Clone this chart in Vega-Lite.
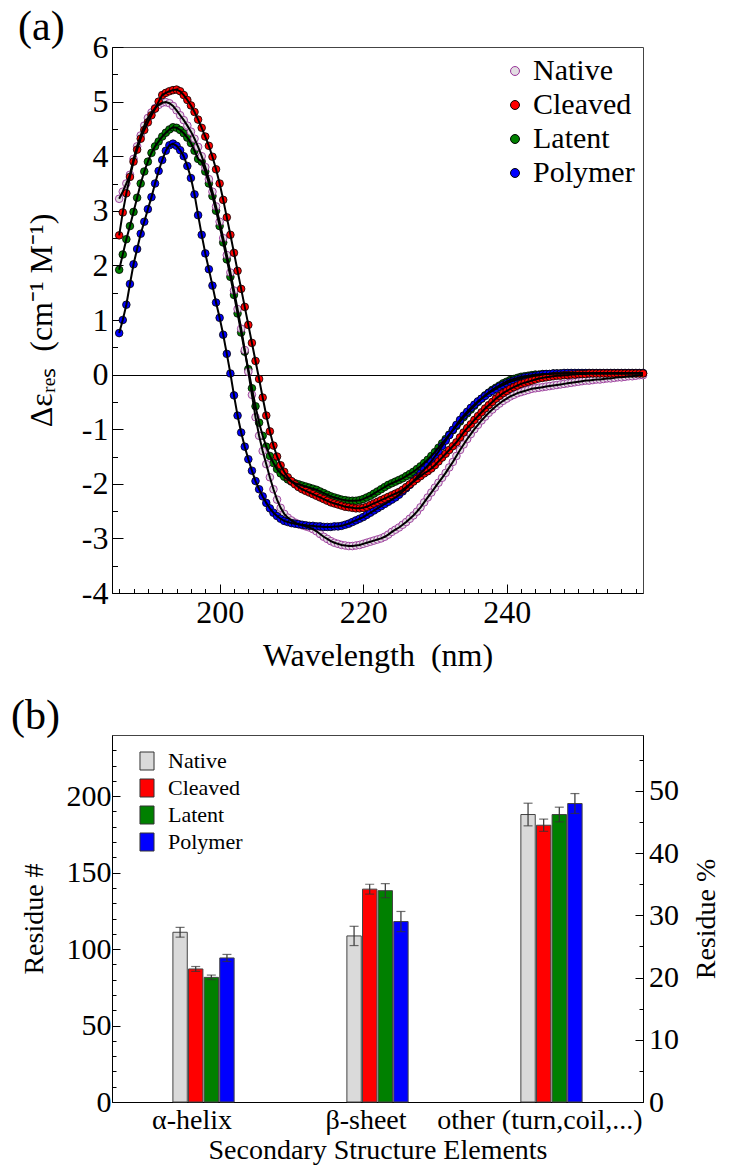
{
"$schema": "https://vega.github.io/schema/vega-lite/v6.json",
"background": "white",
"padding": {"left": 10, "top": 5, "right": 2, "bottom": 2},
"bounds": "flush",
"spacing": 142,
"resolve": {"scale": {"fill": "independent"}, "legend": {"fill": "independent"}},
"config": {"font": "Liberation Serif", "view": {"stroke": "#444", "strokeWidth": 1},
  "axis": {"labelFont": "Liberation Serif", "titleFont": "Liberation Serif", "domainColor": "#000", "tickColor": "#000", "labelColor": "#000", "titleColor": "#000", "grid": false, "titleFontWeight": "normal", "tickWidth": 1},
  "legend": {"labelFont": "Liberation Serif", "titleFont": "Liberation Serif", "padding": 0, "labelColor": "#000"},
  "title": {"font": "Liberation Serif", "fontWeight": "normal", "color": "#000"}},
"datasets": {
"native": [{"w":186,"v":3.22},{"w":186.5,"v":3.35},{"w":187,"v":3.5},{"w":187.5,"v":3.66},{"w":188,"v":3.95},{"w":188.5,"v":4.18},{"w":189,"v":4.38},{"w":189.5,"v":4.56},{"w":190,"v":4.7},{"w":190.5,"v":4.8},{"w":191,"v":4.88},{"w":191.5,"v":4.94},{"w":192,"v":4.98},{"w":192.5,"v":4.99},{"w":193,"v":4.97},{"w":193.5,"v":4.92},{"w":194,"v":4.84},{"w":194.5,"v":4.75},{"w":195,"v":4.66},{"w":195.5,"v":4.56},{"w":196,"v":4.45},{"w":196.5,"v":4.32},{"w":197,"v":4.17},{"w":197.5,"v":4.0},{"w":198,"v":3.8},{"w":198.5,"v":3.58},{"w":199,"v":3.35},{"w":199.5,"v":3.08},{"w":200,"v":2.8},{"w":200.5,"v":2.5},{"w":201,"v":2.19},{"w":201.5,"v":1.87},{"w":202,"v":1.54},{"w":202.5,"v":1.2},{"w":203,"v":0.84},{"w":203.5,"v":0.45},{"w":204,"v":0.05},{"w":204.5,"v":-0.37},{"w":205,"v":-0.78},{"w":205.5,"v":-1.12},{"w":206,"v":-1.4},{"w":206.5,"v":-1.64},{"w":207,"v":-1.88},{"w":207.5,"v":-2.1},{"w":208,"v":-2.29},{"w":208.5,"v":-2.44},{"w":209,"v":-2.55},{"w":209.5,"v":-2.62},{"w":210,"v":-2.67},{"w":210.5,"v":-2.71},{"w":211,"v":-2.74},{"w":211.5,"v":-2.76},{"w":212,"v":-2.78},{"w":212.5,"v":-2.8},{"w":213,"v":-2.83},{"w":213.5,"v":-2.87},{"w":214,"v":-2.92},{"w":214.5,"v":-2.97},{"w":215,"v":-3.01},{"w":215.5,"v":-3.05},{"w":216,"v":-3.08},{"w":216.5,"v":-3.1},{"w":217,"v":-3.12},{"w":217.5,"v":-3.13},{"w":218,"v":-3.14},{"w":218.5,"v":-3.14},{"w":219,"v":-3.13},{"w":219.5,"v":-3.12},{"w":220,"v":-3.1},{"w":220.5,"v":-3.08},{"w":221,"v":-3.06},{"w":221.5,"v":-3.04},{"w":222,"v":-3.02},{"w":222.5,"v":-3.0},{"w":223,"v":-2.97},{"w":223.5,"v":-2.93},{"w":224,"v":-2.88},{"w":224.5,"v":-2.84},{"w":225,"v":-2.8},{"w":225.5,"v":-2.75},{"w":226,"v":-2.7},{"w":226.5,"v":-2.64},{"w":227,"v":-2.58},{"w":227.5,"v":-2.51},{"w":228,"v":-2.43},{"w":228.5,"v":-2.34},{"w":229,"v":-2.25},{"w":229.5,"v":-2.16},{"w":230,"v":-2.07},{"w":230.5,"v":-1.98},{"w":231,"v":-1.89},{"w":231.5,"v":-1.8},{"w":232,"v":-1.7},{"w":232.5,"v":-1.6},{"w":233,"v":-1.49},{"w":233.5,"v":-1.38},{"w":234,"v":-1.28},{"w":234.5,"v":-1.18},{"w":235,"v":-1.09},{"w":235.5,"v":-1.0},{"w":236,"v":-0.92},{"w":236.5,"v":-0.84},{"w":237,"v":-0.77},{"w":237.5,"v":-0.7},{"w":238,"v":-0.64},{"w":238.5,"v":-0.58},{"w":239,"v":-0.53},{"w":239.5,"v":-0.48},{"w":240,"v":-0.44},{"w":240.5,"v":-0.4},{"w":241,"v":-0.37},{"w":241.5,"v":-0.34},{"w":242,"v":-0.32},{"w":242.5,"v":-0.3},{"w":243,"v":-0.28},{"w":243.5,"v":-0.26},{"w":244,"v":-0.25},{"w":244.5,"v":-0.24},{"w":245,"v":-0.23},{"w":245.5,"v":-0.22},{"w":246,"v":-0.21},{"w":246.5,"v":-0.2},{"w":247,"v":-0.19},{"w":247.5,"v":-0.18},{"w":248,"v":-0.17},{"w":248.5,"v":-0.16},{"w":249,"v":-0.15},{"w":249.5,"v":-0.14},{"w":250,"v":-0.13},{"w":250.5,"v":-0.12},{"w":251,"v":-0.11},{"w":251.5,"v":-0.11},{"w":252,"v":-0.1},{"w":252.5,"v":-0.09},{"w":253,"v":-0.09},{"w":253.5,"v":-0.08},{"w":254,"v":-0.07},{"w":254.5,"v":-0.07},{"w":255,"v":-0.06},{"w":255.5,"v":-0.05},{"w":256,"v":-0.05},{"w":256.5,"v":-0.04},{"w":257,"v":-0.03},{"w":257.5,"v":-0.03},{"w":258,"v":-0.02},{"w":258.5,"v":-0.01},{"w":259,"v":-0.01}],
"cleaved": [{"w":186,"v":2.55},{"w":186.5,"v":2.97},{"w":187,"v":3.32},{"w":187.5,"v":3.62},{"w":188,"v":3.9},{"w":188.5,"v":4.12},{"w":189,"v":4.32},{"w":189.5,"v":4.48},{"w":190,"v":4.62},{"w":190.5,"v":4.75},{"w":191,"v":4.87},{"w":191.5,"v":5.0},{"w":192,"v":5.12},{"w":192.5,"v":5.16},{"w":193,"v":5.19},{"w":193.5,"v":5.21},{"w":194,"v":5.22},{"w":194.5,"v":5.19},{"w":195,"v":5.12},{"w":195.5,"v":5.03},{"w":196,"v":4.93},{"w":196.5,"v":4.81},{"w":197,"v":4.67},{"w":197.5,"v":4.52},{"w":198,"v":4.36},{"w":198.5,"v":4.19},{"w":199,"v":3.99},{"w":199.5,"v":3.76},{"w":200,"v":3.5},{"w":200.5,"v":3.2},{"w":201,"v":2.88},{"w":201.5,"v":2.56},{"w":202,"v":2.23},{"w":202.5,"v":1.9},{"w":203,"v":1.57},{"w":203.5,"v":1.24},{"w":204,"v":0.91},{"w":204.5,"v":0.58},{"w":205,"v":0.25},{"w":205.5,"v":-0.08},{"w":206,"v":-0.42},{"w":206.5,"v":-0.75},{"w":207,"v":-1.04},{"w":207.5,"v":-1.3},{"w":208,"v":-1.5},{"w":208.5,"v":-1.66},{"w":209,"v":-1.78},{"w":209.5,"v":-1.88},{"w":210,"v":-1.95},{"w":210.5,"v":-2.01},{"w":211,"v":-2.06},{"w":211.5,"v":-2.1},{"w":212,"v":-2.13},{"w":212.5,"v":-2.16},{"w":213,"v":-2.19},{"w":213.5,"v":-2.22},{"w":214,"v":-2.25},{"w":214.5,"v":-2.28},{"w":215,"v":-2.31},{"w":215.5,"v":-2.34},{"w":216,"v":-2.36},{"w":216.5,"v":-2.38},{"w":217,"v":-2.4},{"w":217.5,"v":-2.42},{"w":218,"v":-2.43},{"w":218.5,"v":-2.44},{"w":219,"v":-2.45},{"w":219.5,"v":-2.45},{"w":220,"v":-2.44},{"w":220.5,"v":-2.42},{"w":221,"v":-2.39},{"w":221.5,"v":-2.36},{"w":222,"v":-2.33},{"w":222.5,"v":-2.3},{"w":223,"v":-2.27},{"w":223.5,"v":-2.24},{"w":224,"v":-2.21},{"w":224.5,"v":-2.18},{"w":225,"v":-2.15},{"w":225.5,"v":-2.11},{"w":226,"v":-2.06},{"w":226.5,"v":-2.01},{"w":227,"v":-1.96},{"w":227.5,"v":-1.91},{"w":228,"v":-1.86},{"w":228.5,"v":-1.81},{"w":229,"v":-1.77},{"w":229.5,"v":-1.72},{"w":230,"v":-1.66},{"w":230.5,"v":-1.59},{"w":231,"v":-1.52},{"w":231.5,"v":-1.45},{"w":232,"v":-1.38},{"w":232.5,"v":-1.31},{"w":233,"v":-1.24},{"w":233.5,"v":-1.15},{"w":234,"v":-1.06},{"w":234.5,"v":-0.98},{"w":235,"v":-0.91},{"w":235.5,"v":-0.83},{"w":236,"v":-0.76},{"w":236.5,"v":-0.69},{"w":237,"v":-0.62},{"w":237.5,"v":-0.56},{"w":238,"v":-0.5},{"w":238.5,"v":-0.44},{"w":239,"v":-0.39},{"w":239.5,"v":-0.34},{"w":240,"v":-0.3},{"w":240.5,"v":-0.26},{"w":241,"v":-0.23},{"w":241.5,"v":-0.2},{"w":242,"v":-0.17},{"w":242.5,"v":-0.15},{"w":243,"v":-0.13},{"w":243.5,"v":-0.11},{"w":244,"v":-0.09},{"w":244.5,"v":-0.07},{"w":245,"v":-0.06},{"w":245.5,"v":-0.05},{"w":246,"v":-0.04},{"w":246.5,"v":-0.03},{"w":247,"v":-0.02},{"w":247.5,"v":-0.02},{"w":248,"v":-0.01},{"w":248.5,"v":-0.01},{"w":249,"v":0.0},{"w":249.5,"v":0.0},{"w":250,"v":0.01},{"w":250.5,"v":0.01},{"w":251,"v":0.01},{"w":251.5,"v":0.02},{"w":252,"v":0.02},{"w":252.5,"v":0.02},{"w":253,"v":0.02},{"w":253.5,"v":0.02},{"w":254,"v":0.02},{"w":254.5,"v":0.02},{"w":255,"v":0.02},{"w":255.5,"v":0.02},{"w":256,"v":0.02},{"w":256.5,"v":0.02},{"w":257,"v":0.02},{"w":257.5,"v":0.02},{"w":258,"v":0.02},{"w":258.5,"v":0.02},{"w":259,"v":0.02}],
"latent": [{"w":186,"v":1.92},{"w":186.5,"v":2.2},{"w":187,"v":2.48},{"w":187.5,"v":2.72},{"w":188,"v":2.98},{"w":188.5,"v":3.24},{"w":189,"v":3.5},{"w":189.5,"v":3.72},{"w":190,"v":3.9},{"w":190.5,"v":4.06},{"w":191,"v":4.18},{"w":191.5,"v":4.27},{"w":192,"v":4.36},{"w":192.5,"v":4.43},{"w":193,"v":4.49},{"w":193.5,"v":4.53},{"w":194,"v":4.52},{"w":194.5,"v":4.48},{"w":195,"v":4.42},{"w":195.5,"v":4.34},{"w":196,"v":4.24},{"w":196.5,"v":4.1},{"w":197,"v":3.95},{"w":197.5,"v":3.9},{"w":198,"v":3.72},{"w":198.5,"v":3.5},{"w":199,"v":3.27},{"w":199.5,"v":3.0},{"w":200,"v":2.72},{"w":200.5,"v":2.42},{"w":201,"v":2.11},{"w":201.5,"v":1.79},{"w":202,"v":1.46},{"w":202.5,"v":1.12},{"w":203,"v":0.77},{"w":203.5,"v":0.42},{"w":204,"v":0.1},{"w":204.5,"v":-0.25},{"w":205,"v":-0.58},{"w":205.5,"v":-0.88},{"w":206,"v":-1.12},{"w":206.5,"v":-1.32},{"w":207,"v":-1.49},{"w":207.5,"v":-1.62},{"w":208,"v":-1.73},{"w":208.5,"v":-1.81},{"w":209,"v":-1.87},{"w":209.5,"v":-1.92},{"w":210,"v":-1.96},{"w":210.5,"v":-1.99},{"w":211,"v":-2.01},{"w":211.5,"v":-2.03},{"w":212,"v":-2.05},{"w":212.5,"v":-2.07},{"w":213,"v":-2.09},{"w":213.5,"v":-2.11},{"w":214,"v":-2.14},{"w":214.5,"v":-2.17},{"w":215,"v":-2.2},{"w":215.5,"v":-2.23},{"w":216,"v":-2.25},{"w":216.5,"v":-2.27},{"w":217,"v":-2.29},{"w":217.5,"v":-2.3},{"w":218,"v":-2.31},{"w":218.5,"v":-2.31},{"w":219,"v":-2.31},{"w":219.5,"v":-2.3},{"w":220,"v":-2.28},{"w":220.5,"v":-2.25},{"w":221,"v":-2.22},{"w":221.5,"v":-2.18},{"w":222,"v":-2.14},{"w":222.5,"v":-2.1},{"w":223,"v":-2.06},{"w":223.5,"v":-2.02},{"w":224,"v":-1.99},{"w":224.5,"v":-1.96},{"w":225,"v":-1.93},{"w":225.5,"v":-1.9},{"w":226,"v":-1.86},{"w":226.5,"v":-1.82},{"w":227,"v":-1.78},{"w":227.5,"v":-1.73},{"w":228,"v":-1.68},{"w":228.5,"v":-1.62},{"w":229,"v":-1.56},{"w":229.5,"v":-1.49},{"w":230,"v":-1.42},{"w":230.5,"v":-1.34},{"w":231,"v":-1.26},{"w":231.5,"v":-1.18},{"w":232,"v":-1.1},{"w":232.5,"v":-1.02},{"w":233,"v":-0.94},{"w":233.5,"v":-0.86},{"w":234,"v":-0.78},{"w":234.5,"v":-0.71},{"w":235,"v":-0.64},{"w":235.5,"v":-0.57},{"w":236,"v":-0.5},{"w":236.5,"v":-0.44},{"w":237,"v":-0.38},{"w":237.5,"v":-0.33},{"w":238,"v":-0.28},{"w":238.5,"v":-0.24},{"w":239,"v":-0.2},{"w":239.5,"v":-0.16},{"w":240,"v":-0.13},{"w":240.5,"v":-0.1},{"w":241,"v":-0.08},{"w":241.5,"v":-0.06},{"w":242,"v":-0.04},{"w":242.5,"v":-0.03},{"w":243,"v":-0.02},{"w":243.5,"v":-0.01},{"w":244,"v":0.0},{"w":244.5,"v":0.0},{"w":245,"v":0.01},{"w":245.5,"v":0.01},{"w":246,"v":0.01},{"w":246.5,"v":0.02},{"w":247,"v":0.02},{"w":247.5,"v":0.02},{"w":248,"v":0.02},{"w":248.5,"v":0.02},{"w":249,"v":0.02},{"w":249.5,"v":0.02},{"w":250,"v":0.02},{"w":250.5,"v":0.02},{"w":251,"v":0.02},{"w":251.5,"v":0.02},{"w":252,"v":0.02},{"w":252.5,"v":0.02},{"w":253,"v":0.02},{"w":253.5,"v":0.02},{"w":254,"v":0.02},{"w":254.5,"v":0.02},{"w":255,"v":0.02},{"w":255.5,"v":0.02},{"w":256,"v":0.02},{"w":256.5,"v":0.02},{"w":257,"v":0.02},{"w":257.5,"v":0.02},{"w":258,"v":0.02},{"w":258.5,"v":0.02},{"w":259,"v":0.02}],
"polymer": [{"w":186,"v":0.76},{"w":186.5,"v":1.0},{"w":187,"v":1.28},{"w":187.5,"v":1.66},{"w":188,"v":2.02},{"w":188.5,"v":2.3},{"w":189,"v":2.58},{"w":189.5,"v":2.8},{"w":190,"v":3.03},{"w":190.5,"v":3.25},{"w":191,"v":3.5},{"w":191.5,"v":3.73},{"w":192,"v":3.93},{"w":192.5,"v":4.1},{"w":193,"v":4.2},{"w":193.5,"v":4.23},{"w":194,"v":4.19},{"w":194.5,"v":4.11},{"w":195,"v":4.0},{"w":195.5,"v":3.82},{"w":196,"v":3.6},{"w":196.5,"v":3.3},{"w":197,"v":2.92},{"w":197.5,"v":2.56},{"w":198,"v":2.22},{"w":198.5,"v":1.93},{"w":199,"v":1.63},{"w":199.5,"v":1.32},{"w":200,"v":1.04},{"w":200.5,"v":0.73},{"w":201,"v":0.38},{"w":201.5,"v":0.02},{"w":202,"v":-0.38},{"w":202.5,"v":-0.75},{"w":203,"v":-1.06},{"w":203.5,"v":-1.32},{"w":204,"v":-1.55},{"w":204.5,"v":-1.76},{"w":205,"v":-1.95},{"w":205.5,"v":-2.1},{"w":206,"v":-2.23},{"w":206.5,"v":-2.35},{"w":207,"v":-2.45},{"w":207.5,"v":-2.53},{"w":208,"v":-2.59},{"w":208.5,"v":-2.64},{"w":209,"v":-2.68},{"w":209.5,"v":-2.7},{"w":210,"v":-2.72},{"w":210.5,"v":-2.73},{"w":211,"v":-2.74},{"w":211.5,"v":-2.75},{"w":212,"v":-2.76},{"w":212.5,"v":-2.77},{"w":213,"v":-2.77},{"w":213.5,"v":-2.78},{"w":214,"v":-2.78},{"w":214.5,"v":-2.79},{"w":215,"v":-2.79},{"w":215.5,"v":-2.79},{"w":216,"v":-2.78},{"w":216.5,"v":-2.78},{"w":217,"v":-2.77},{"w":217.5,"v":-2.75},{"w":218,"v":-2.73},{"w":218.5,"v":-2.7},{"w":219,"v":-2.67},{"w":219.5,"v":-2.64},{"w":220,"v":-2.61},{"w":220.5,"v":-2.57},{"w":221,"v":-2.53},{"w":221.5,"v":-2.49},{"w":222,"v":-2.45},{"w":222.5,"v":-2.41},{"w":223,"v":-2.37},{"w":223.5,"v":-2.33},{"w":224,"v":-2.29},{"w":224.5,"v":-2.25},{"w":225,"v":-2.2},{"w":225.5,"v":-2.14},{"w":226,"v":-2.08},{"w":226.5,"v":-2.02},{"w":227,"v":-1.95},{"w":227.5,"v":-1.88},{"w":228,"v":-1.81},{"w":228.5,"v":-1.74},{"w":229,"v":-1.67},{"w":229.5,"v":-1.59},{"w":230,"v":-1.5},{"w":230.5,"v":-1.41},{"w":231,"v":-1.31},{"w":231.5,"v":-1.21},{"w":232,"v":-1.11},{"w":232.5,"v":-1.01},{"w":233,"v":-0.92},{"w":233.5,"v":-0.83},{"w":234,"v":-0.75},{"w":234.5,"v":-0.68},{"w":235,"v":-0.61},{"w":235.5,"v":-0.55},{"w":236,"v":-0.49},{"w":236.5,"v":-0.44},{"w":237,"v":-0.39},{"w":237.5,"v":-0.34},{"w":238,"v":-0.3},{"w":238.5,"v":-0.26},{"w":239,"v":-0.22},{"w":239.5,"v":-0.19},{"w":240,"v":-0.16},{"w":240.5,"v":-0.13},{"w":241,"v":-0.11},{"w":241.5,"v":-0.09},{"w":242,"v":-0.07},{"w":242.5,"v":-0.05},{"w":243,"v":-0.04},{"w":243.5,"v":-0.03},{"w":244,"v":-0.02},{"w":244.5,"v":-0.01},{"w":245,"v":0.0},{"w":245.5,"v":0.01},{"w":246,"v":0.01},{"w":246.5,"v":0.02},{"w":247,"v":0.02},{"w":247.5,"v":0.02},{"w":248,"v":0.03},{"w":248.5,"v":0.03},{"w":249,"v":0.03},{"w":249.5,"v":0.03},{"w":250,"v":0.03},{"w":250.5,"v":0.03},{"w":251,"v":0.03},{"w":251.5,"v":0.03},{"w":252,"v":0.03},{"w":252.5,"v":0.03},{"w":253,"v":0.03},{"w":253.5,"v":0.03},{"w":254,"v":0.03},{"w":254.5,"v":0.03},{"w":255,"v":0.03},{"w":255.5,"v":0.03},{"w":256,"v":0.03},{"w":256.5,"v":0.03},{"w":257,"v":0.03},{"w":257.5,"v":0.03},{"w":258,"v":0.03},{"w":258.5,"v":0.03},{"w":259,"v":0.03}],
"bars": [
{"cat":"α-helix","s":"Native","v":111,"lo":107.8,"hi":114.2},
{"cat":"α-helix","s":"Cleaved","v":87,"lo":85.4,"hi":88.6},
{"cat":"α-helix","s":"Latent","v":81.5,"lo":80,"hi":83},
{"cat":"α-helix","s":"Polymer","v":94.2,"lo":91.9,"hi":96.5},
{"cat":"β-sheet","s":"Native","v":108.6,"lo":102.3,"hi":114.9},
{"cat":"β-sheet","s":"Cleaved","v":139.2,"lo":136,"hi":142.4},
{"cat":"β-sheet","s":"Latent","v":138.2,"lo":133.6,"hi":142.8},
{"cat":"β-sheet","s":"Polymer","v":118,"lo":111.4,"hi":124.6},
{"cat":"other (turn,coil,...)","s":"Native","v":188,"lo":180.6,"hi":195.4},
{"cat":"other (turn,coil,...)","s":"Cleaved","v":181,"lo":177,"hi":185},
{"cat":"other (turn,coil,...)","s":"Latent","v":188,"lo":183.2,"hi":192.8},
{"cat":"other (turn,coil,...)","s":"Polymer","v":195.2,"lo":188.7,"hi":201.7}
]
},
"vconcat": [
{
 "width": 531, "height": 546,
 "title": {"text": "(a)", "anchor": "start", "frame": "group", "fontSize": 42, "dx": -94, "offset": -51, "baseline": "alphabetic"},
 "encoding": {
  "x": {"field": "w", "type": "quantitative", "scale": {"domain": [185, 259], "nice": false, "zero": false},
        "axis": {"title": "Wavelength\u00a0 (nm)", "values": [186,188,190,192,194,196,198,200,202,204,206,208,210,212,214,216,218,220,222,224,226,228,230,232,234,236,238,240,242,244,246,248,250,252,254,256,258],
                 "labelExpr": "datum.value % 20 === 0 ? datum.label : ''",
                 "tickSize": {"condition": {"test": "datum.value % 20 === 0", "value": -9}, "value": -4.5},
                 "labelFontSize": 32, "titleFontSize": 32, "labelPadding": 13, "titlePadding": 8, "labelOverlap": false, "labelFlush": false}},
  "y": {"field": "v", "type": "quantitative", "scale": {"domain": [-4, 6], "nice": false, "zero": false},
        "axis": {"title": "Δεᵣₑₛ\u00a0 (cm⁻¹ M⁻¹)", "values": [-4,-3.5,-3,-2.5,-2,-1.5,-1,-0.5,0,0.5,1,1.5,2,2.5,3,3.5,4,4.5,5,5.5,6],
                 "labelExpr": "datum.value % 1 === 0 ? '' + datum.value : ''",
                 "tickSize": {"condition": {"test": "datum.value % 1 === 0", "value": -11}, "value": -5.5},
                 "grid": true, "gridColor": "#000", "gridWidth": 1,
                 "gridOpacity": {"condition": {"test": "datum.value === 0", "value": 1}, "value": 0},
                 "labelFontSize": 32, "titleFontSize": 32, "labelPadding": 15, "titlePadding": 23, "labelOverlap": false}}
 },
 "layer": [
  {"data": {"name": "latent"}, "mark": {"type": "point", "filled": true, "size": 58, "opacity": 1, "stroke": "#000", "strokeWidth": 0.8},
   "encoding": {"fill": {"datum": "Latent", "type": "nominal",
      "scale": {"domain": ["Native", "Cleaved", "Latent", "Polymer"], "range": ["#e2dde2", "#ff0000", "#008000", "#0000ff"]},
      "legend": {"orient": "none", "legendX": 388, "legendY": 9, "title": null, "symbolType": "circle", "symbolSize": 80,
                 "symbolStrokeColor": "#000", "symbolStrokeWidth": 1, "symbolOpacity": 1, "labelFontSize": 30, "labelOffset": 3, "rowPadding": 4,
                 "encode": {"symbols": {"update": {"stroke": {"signal": "datum.value === 'Native' ? '#993399' : '#000000'"}}}}}}}},
  {"data": {"name": "native"}, "mark": {"type": "point", "filled": true, "size": 58, "opacity": 1, "stroke": "#993399", "strokeWidth": 0.9},
   "encoding": {"fill": {"datum": "Native", "type": "nominal"}}},
  {"data": {"name": "polymer"}, "mark": {"type": "point", "filled": true, "size": 58, "opacity": 1, "stroke": "#000", "strokeWidth": 0.8},
   "encoding": {"fill": {"datum": "Polymer", "type": "nominal"}}},
  {"data": {"name": "cleaved"}, "mark": {"type": "point", "filled": true, "size": 58, "opacity": 1, "stroke": "#000", "strokeWidth": 0.8},
   "encoding": {"fill": {"datum": "Cleaved", "type": "nominal"}}},
  {"data": {"name": "native"}, "mark": {"type": "line", "color": "#000", "strokeWidth": 2}, "encoding": {}},
  {"data": {"name": "latent"}, "mark": {"type": "line", "color": "#000", "strokeWidth": 2}, "encoding": {}},
  {"data": {"name": "polymer"}, "mark": {"type": "line", "color": "#000", "strokeWidth": 2}, "encoding": {}},
  {"data": {"name": "cleaved"}, "mark": {"type": "line", "color": "#000", "strokeWidth": 2}, "encoding": {}}
 ]
},
{
 "width": 531, "height": 367,
 "title": {"text": "(b)", "anchor": "start", "frame": "group", "fontSize": 42, "dx": -101, "offset": -36, "baseline": "alphabetic"},
 "data": {"name": "bars"},
 "encoding": {
  "x": {"field": "cat", "type": "nominal", "sort": ["α-helix", "β-sheet", "other (turn,coil,...)"],
        "scale": {"paddingInner": 0.648, "paddingOuter": 0.35},
        "axis": {"title": "Secondary Structure Elements", "labelAngle": 0, "labelFontSize": 28, "titleFontSize": 28,
                 "tickSize": -6, "tickOffset": -6, "labelOffset": -6, "labelPadding": 10, "titlePadding": 2, "labelLimit": 400}},
  "xOffset": {"field": "s", "type": "nominal", "sort": ["Native", "Cleaved", "Latent", "Polymer"],
              "scale": {"paddingInner": 0.08, "paddingOuter": 0}}
 },
 "layer": [
  {"layer": [
    {"mark": {"type": "bar", "stroke": "#444", "strokeWidth": 1},
     "encoding": {
      "y": {"field": "v", "type": "quantitative", "scale": {"domain": [0, 240], "nice": false},
            "axis": {"title": "Residue #", "values": [0,10,20,30,40,50,60,70,80,90,100,110,120,130,140,150,160,170,180,190,200,210,220,230],
                     "labelExpr": "datum.value % 50 === 0 ? datum.label : ''",
                     "tickSize": {"condition": {"test": "datum.value % 50 === 0", "value": -8}, "value": -4},
                     "labelFontSize": 30, "titleFontSize": 28, "labelPadding": 9, "titlePadding": 18, "labelOverlap": false}},
      "fill": {"field": "s", "type": "nominal",
               "scale": {"domain": ["Native", "Cleaved", "Latent", "Polymer"], "range": ["#dadada", "#ff0000", "#008000", "#0000ff"]},
               "legend": {"orient": "none", "legendX": 24, "legendY": 15, "title": null, "symbolType": "M-0.78,-1H0.78V1H-0.78Z", "symbolSize": 324,
                          "symbolStrokeColor": "#333", "symbolStrokeWidth": 1, "symbolOpacity": 1, "labelFontSize": 22, "labelOffset": 10, "rowPadding": 5}}}},
    {"mark": {"type": "rule", "color": "#333", "strokeWidth": 1.2},
     "encoding": {"y": {"field": "lo", "type": "quantitative",
            "axis": {"title": "Residue #", "values": [0,10,20,30,40,50,60,70,80,90,100,110,120,130,140,150,160,170,180,190,200,210,220,230],
                     "labelExpr": "datum.value % 50 === 0 ? datum.label : ''",
                     "tickSize": {"condition": {"test": "datum.value % 50 === 0", "value": -8}, "value": -4},
                     "labelFontSize": 30, "titleFontSize": 28, "labelPadding": 9, "titlePadding": 18, "labelOverlap": false}}, "y2": {"field": "hi"}}},
    {"mark": {"type": "tick", "color": "#333", "thickness": 1.2, "size": 9},
     "encoding": {"y": {"field": "lo", "type": "quantitative",
            "axis": {"title": "Residue #", "values": [0,10,20,30,40,50,60,70,80,90,100,110,120,130,140,150,160,170,180,190,200,210,220,230],
                     "labelExpr": "datum.value % 50 === 0 ? datum.label : ''",
                     "tickSize": {"condition": {"test": "datum.value % 50 === 0", "value": -8}, "value": -4},
                     "labelFontSize": 30, "titleFontSize": 28, "labelPadding": 9, "titlePadding": 18, "labelOverlap": false}}}},
    {"mark": {"type": "tick", "color": "#333", "thickness": 1.2, "size": 9},
     "encoding": {"y": {"field": "hi", "type": "quantitative",
            "axis": {"title": "Residue #", "values": [0,10,20,30,40,50,60,70,80,90,100,110,120,130,140,150,160,170,180,190,200,210,220,230],
                     "labelExpr": "datum.value % 50 === 0 ? datum.label : ''",
                     "tickSize": {"condition": {"test": "datum.value % 50 === 0", "value": -8}, "value": -4},
                     "labelFontSize": 30, "titleFontSize": 28, "labelPadding": 9, "titlePadding": 18, "labelOverlap": false}}}}
  ]},
  {"mark": {"type": "point", "opacity": 0},
   "encoding": {"y": {"datum": 0, "type": "quantitative", "scale": {"domain": [0, 59], "nice": false},
     "axis": {"orient": "right", "title": "Residue %", "titleAngle": 270, "titleBaseline": "top", "values": [0,5,10,15,20,25,30,35,40,45,50,55],
              "labelExpr": "datum.value % 10 === 0 ? datum.label : ''",
              "tickSize": {"condition": {"test": "datum.value % 10 === 0", "value": -8}, "value": -4},
              "labelFontSize": 30, "titleFontSize": 28, "labelPadding": 13.5, "titlePadding": 14, "labelOverlap": false}}}}
 ],
 "resolve": {"scale": {"y": "independent"}}
}
]
}
